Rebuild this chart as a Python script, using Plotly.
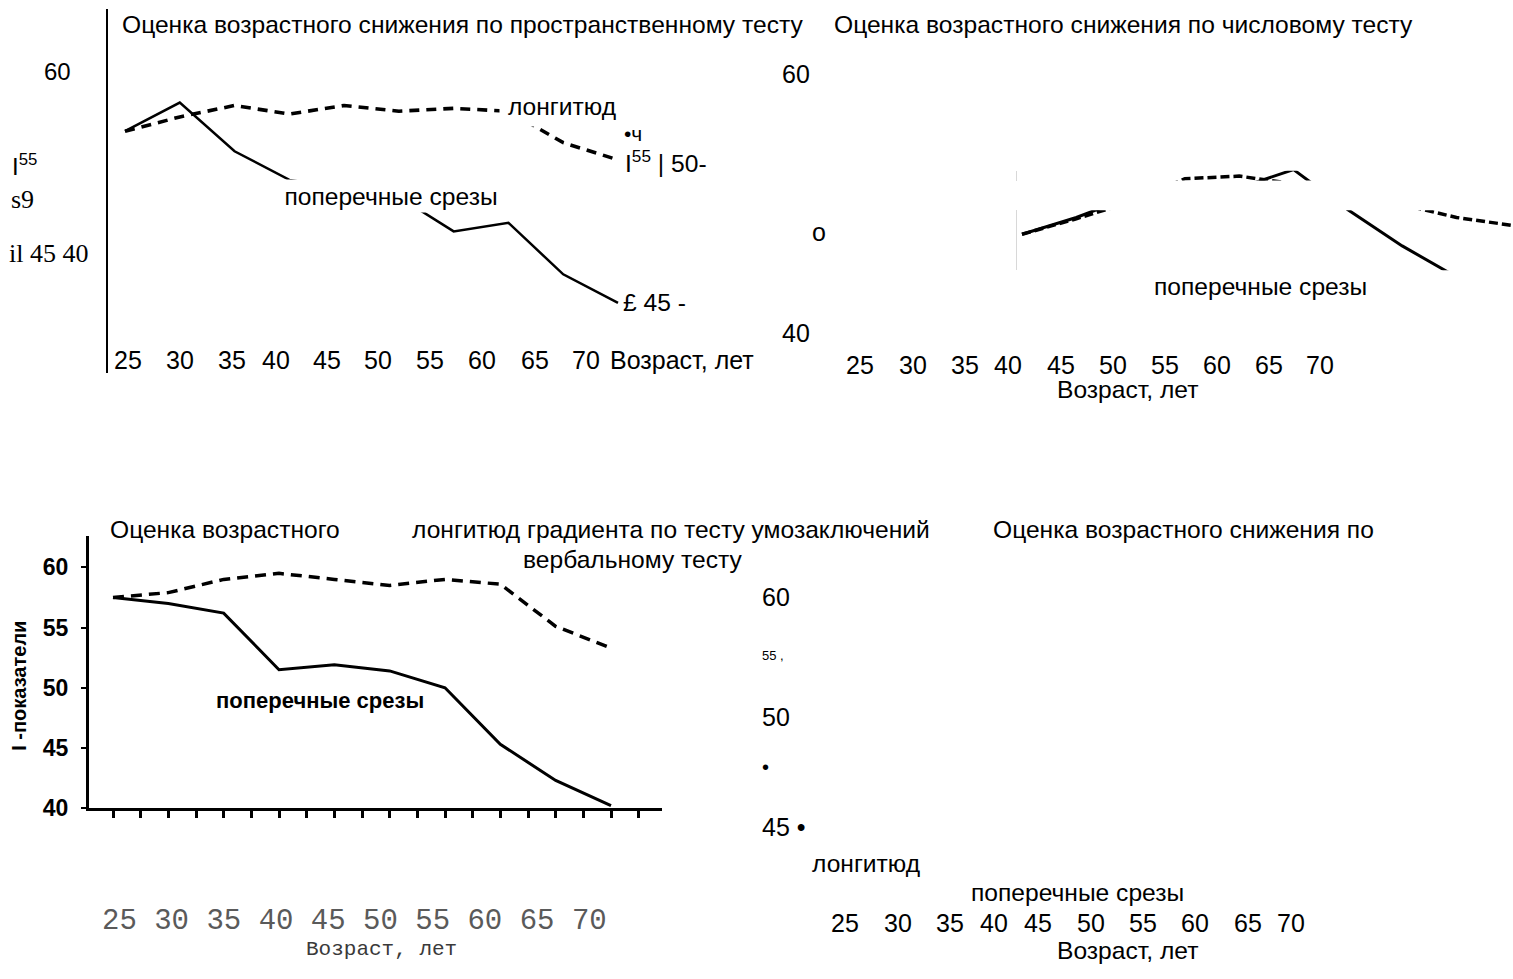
import plotly.graph_objects as go

# ---------------- data ----------------
ages = [25, 30, 35, 40, 45, 50, 55, 60, 65, 70]

# spatial test (top-left)
spatial_long = [51.0, 51.5, 51.9, 51.6, 51.9, 51.7, 51.8, 51.7, 50.6, 50.0]
spatial_cross = [51.0, 52.0, 50.3, 49.3, 49.0, 48.7, 47.5, 47.8, 46.0, 45.0]

# numeric test (top-right)
numeric_long = [47.6, 48.8, 50.1, 51.9, 52.1, 51.5, 50.5, 49.9, 48.9, 48.3]
numeric_cross = [47.6, 48.9, 50.5, 50.8, 51.2, 52.6, 49.5, 46.7, 44.3, 42.8]

# inductive reasoning test (bottom-left)
verbal_long = [57.5, 57.9, 59.0, 59.5, 59.0, 58.5, 59.0, 58.6, 55.1, 53.3]
verbal_cross = [57.5, 57.0, 56.2, 51.5, 51.9, 51.4, 50.0, 45.3, 42.3, 40.2]

age_labels = ["25", "30", "35", "40", "45", "50", "55", "60", "65", "70"]
score_ticks = [40, 45, 50, 55, 60]

t_spatial = "Оценка возрастного снижения по пространственному тесту"
t_numeric = "Оценка возрастного снижения по числовому тесту"
t_reason_a = "Оценка возрастного"
t_reason_b = "лонгитюд градиента по тесту умозаключений"
t_reason_c = "вербальному тесту"
t_verbal = "Оценка возрастного снижения по"
lbl_long = "лонгитюд"
lbl_cross = "поперечные срезы"
lbl_age = "Возраст, лет"
lbl_t = "I -показатели"

# ---------------- layout helpers ----------------
W, H = 1513, 979
SANS = "Liberation Sans, Arial, sans-serif"
SERIF = "Liberation Serif, Times New Roman, serif"
MONO = "Liberation Mono, Courier New, monospace"
TS = 24.6   # running text size


def fx(p):
    return p / W


def fy(p):
    return 1 - p / H


def lin(p0, v0, p1, v1, p):
    return v0 + (p - p0) * (v1 - v0) / (p1 - p0)


annotations = []


def ann(text, x, y, size=TS, family=SANS, xanchor="center", color="black", **kw):
    d = dict(text=text, x=fx(x), y=fy(y), xref="paper", yref="paper",
             xanchor=xanchor, yanchor="middle", showarrow=False,
             font=dict(family=family, size=size, color=color))
    d.update(kw)
    annotations.append(d)


fig = go.Figure()

# ---------------- top-left: spatial ----------------
fig.add_trace(go.Scatter(x=ages, y=spatial_cross, mode="lines", xaxis="x", yaxis="y",
                         line=dict(color="black", width=2.5), showlegend=False))
fig.add_trace(go.Scatter(x=ages, y=spatial_long, mode="lines", xaxis="x", yaxis="y",
                         line=dict(color="black", width=3.6, dash="10px,7px"), showlegend=False))

# ---------------- top-right: numeric (seen through two strips) ----------------
for xa, ya in (("x3", "y3"), ("x4", "y4")):
    fig.add_trace(go.Scatter(x=ages, y=numeric_cross, mode="lines", xaxis=xa, yaxis=ya,
                             line=dict(color="black", width=3), showlegend=False))
    fig.add_trace(go.Scatter(x=ages, y=numeric_long, mode="lines", xaxis=xa, yaxis=ya,
                             line=dict(color="black", width=3.5, dash="9px,4px"), showlegend=False))

# ---------------- bottom-left: reasoning ----------------
fig.add_trace(go.Scatter(x=ages, y=verbal_cross, mode="lines", xaxis="x2", yaxis="y2",
                         line=dict(color="black", width=3), showlegend=False))
fig.add_trace(go.Scatter(x=ages, y=verbal_long, mode="lines", xaxis="x2", yaxis="y2",
                         line=dict(color="black", width=3.5, dash="11px,7px"), showlegend=False))

hidden = dict(visible=False, fixedrange=True)

layout_axes = dict(
    # top-left
    xaxis=dict(domain=[fx(108), fx(760)],
               range=[lin(125, 25, 618, 70, 108), lin(125, 25, 618, 70, 760)], **hidden),
    yaxis=dict(domain=[fy(378), fy(9)],
               range=[lin(162, 50, 307, 45, 378), lin(162, 50, 307, 45, 9)],
               showline=True, linecolor="black", linewidth=2, showgrid=False,
               zeroline=False, showticklabels=False, ticks="", anchor="x"),
    # bottom-left
    xaxis2=dict(domain=[fx(89), fx(662)],
                range=[lin(113, 25, 611, 70, 89), lin(113, 25, 611, 70, 662)],
                showline=True, linecolor="black", linewidth=3, showgrid=False, zeroline=False,
                ticks="outside", ticklen=7, tickwidth=3, tickcolor="black",
                tick0=25, dtick=2.5, showticklabels=False, anchor="y2"),
    yaxis2=dict(domain=[fy(819), fy(543)],
                range=[lin(575, 60, 819, 40, 819), lin(575, 60, 819, 40, 543)],
                showline=True, linecolor="black", linewidth=3, showgrid=False, zeroline=False,
                ticks="outside", ticklen=5, tickwidth=2, tickcolor="black",
                tickvals=score_ticks, ticklabelstandoff=8,
                tickfont=dict(family=SANS, size=23, color="black", weight="bold"),
                anchor="x2"),
    # top-right upper strip
    xaxis3=dict(domain=[fx(1017), fx(1513)],
                range=[lin(1022, 25, 1513, 70, 1017), 70.2], **hidden),
    yaxis3=dict(domain=[fy(183), fy(173)],
                range=[lin(75, 60, 337, 40, 183), lin(75, 60, 337, 40, 173)],
                showline=True, linecolor="#d8d8d8", linewidth=1, showgrid=False,
                zeroline=False, showticklabels=False, ticks="", anchor="x3"),
    # top-right lower strip
    xaxis4=dict(domain=[fx(1017), fx(1513)],
                range=[lin(1022, 25, 1513, 70, 1017), 70.2], **hidden),
    yaxis4=dict(domain=[fy(274), fy(213)],
                range=[lin(75, 60, 337, 40, 274), lin(75, 60, 337, 40, 213)],
                showline=True, linecolor="#d8d8d8", linewidth=1, showgrid=False,
                zeroline=False, showticklabels=False, ticks="", anchor="x4"),
)

# ---------------- texts: top-left ----------------
ann(t_spatial, 120, 25, xanchor="left")
ann("60", 58, 72, size=24)
ann("I<sup>55</sup>", 10, 167, size=24, xanchor="left")
ann("s9", 9, 202, size=26, family=SERIF, xanchor="left")
ann("il 45 40", 7, 257, size=26, family=SERIF, xanchor="left")
ann(lbl_long, 562, 107, bgcolor="white", width=124, height=40, borderpad=0)
ann("•ч", 622, 135, size=21, xanchor="left")
ann("I<sup>55</sup> | 50-", 623, 164, xanchor="left")
ann(lbl_cross, 391, 199, bgcolor="white", width=212, height=32, borderpad=0)
ann("£ 45 -", 621, 307, xanchor="left")
for lab, cx in zip(age_labels, [128, 180, 232, 276, 327, 378, 430, 482, 535, 586]):
    ann(lab, cx, 365, size=25)
ann(lbl_age, 608, 365, size=25, xanchor="left")

# ---------------- texts: top-right ----------------
ann(t_numeric, 832, 25, xanchor="left")
ann("60", 796, 75, size=25)
ann("о", 819, 235, size=25)
ann("40", 796, 337, size=25)
ann(lbl_cross, 1152, 290, xanchor="left")
for lab, cx in zip(age_labels, [860, 913, 965, 1008, 1061, 1113, 1165, 1217, 1269, 1320]):
    ann(lab, cx, 370, size=25)
ann(lbl_age, 1127, 395)

# ---------------- texts: bottom-left ----------------
ann(t_reason_a, 108, 537, xanchor="left")
ann(t_reason_b, 410, 537, xanchor="left")
ann(t_reason_c, 633, 567)
ann("<b>" + lbl_cross + "</b>", 320, 710, size=22)
ann("<b>" + lbl_t + "</b>", 19, 695, size=20, textangle=-90)
ann(" ".join(age_labels), 100, 934, size=29, family=MONO, xanchor="left", color="#5a5a5a")
ann(lbl_age, 381, 962, size=21, family=MONO, color="#3a3a3a")

# ---------------- texts: bottom-right ----------------
ann(t_verbal, 991, 537, xanchor="left")
ann("60", 760, 605, size=25, xanchor="left")
ann("55 ,", 760, 664, size=13, xanchor="left")
ann("50", 760, 727, size=25, xanchor="left")
ann("•", 760, 777, size=20, xanchor="left")
ann("45 •", 760, 838, size=25, xanchor="left")
ann(lbl_long, 810, 875, xanchor="left")
ann(lbl_cross, 969, 905, xanchor="left")
for lab, cx in zip(age_labels, [845, 898, 950, 994, 1038, 1091, 1143, 1195, 1248, 1291]):
    ann(lab, cx, 935, size=25)
ann(lbl_age, 1127, 963)

fig.update_layout(
    width=W, height=H,
    margin=dict(l=0, r=0, t=0, b=0),
    paper_bgcolor="white", plot_bgcolor="rgba(0,0,0,0)",
    showlegend=False,
    annotations=annotations,
    **layout_axes,
)

fig.write_html("out.html", config={"displayModeBar": False},
               post_script="document.body.style.margin='0';document.body.style.overflow='hidden';")
